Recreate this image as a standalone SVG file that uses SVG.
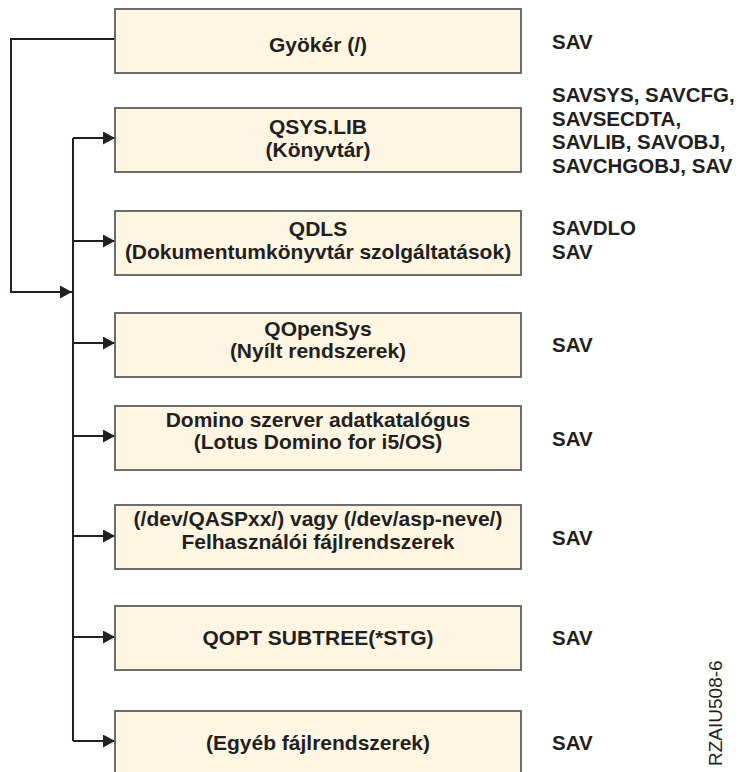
<svg xmlns="http://www.w3.org/2000/svg" width="742" height="772" viewBox="0 0 742 772">
<defs>
<style>
.box{fill:#fef6e2;stroke:#5e5e5e;stroke-width:1.8}
.t{font-family:"Liberation Sans",Arial,sans-serif;font-weight:bold;font-size:21px;fill:#231f20}
.l{font-size:20.5px}
.c{text-anchor:middle}
.ln{fill:none;stroke:#231f20;stroke-width:2}
</style>
<marker id="ah" markerUnits="userSpaceOnUse" markerWidth="13" markerHeight="14" refX="12" refY="6.5" orient="auto">
<path d="M0,0 L12,6.5 L0,13 Z" fill="#231f20"/>
</marker>
</defs>
<rect width="742" height="772" fill="#ffffff"/>
<g id="connectors">
<path class="ln" d="M115,39 H11 V292 H72" marker-end="url(#ah)"/>
<path class="ln" d="M73,138 V741"/>
<path class="ln" d="M73,138 H115" marker-end="url(#ah)"/>
<path class="ln" d="M73,241 H115" marker-end="url(#ah)"/>
<path class="ln" d="M73,343 H115" marker-end="url(#ah)"/>
<path class="ln" d="M73,436 H115" marker-end="url(#ah)"/>
<path class="ln" d="M73,536 H115" marker-end="url(#ah)"/>
<path class="ln" d="M73,637 H115" marker-end="url(#ah)"/>
<path class="ln" d="M73,741 H115" marker-end="url(#ah)"/>
</g>
<g id="node-root">
<rect class="box" x="115" y="9" width="406" height="64"/>
<text class="t c" x="318" y="52">Gyökér (/)</text>
<text class="t l" x="552" y="49">SAV</text>
</g>
<g id="node-qsys">
<rect class="box" x="115" y="108" width="406" height="64"/>
<text class="t c" x="318" y="134">QSYS.LIB</text>
<text class="t c" x="318" y="157">(Könyvtár)</text>
<text class="t l" x="552" y="102">SAVSYS, SAVCFG,</text>
<text class="t l" x="552" y="126">SAVSECDTA,</text>
<text class="t l" x="552" y="149">SAVLIB, SAVOBJ,</text>
<text class="t l" x="552" y="173">SAVCHGOBJ, SAV</text>
</g>
<g id="node-qdls">
<rect class="box" x="115" y="211" width="406" height="64"/>
<text class="t c" x="318" y="236">QDLS</text>
<text class="t c" x="318" y="259">(Dokumentumkönyvtár szolgáltatások)</text>
<text class="t l" x="552" y="235">SAVDLO</text>
<text class="t l" x="552" y="259">SAV</text>
</g>
<g id="node-qopensys">
<rect class="box" x="115" y="313" width="406" height="64"/>
<text class="t c" x="318" y="336">QOpenSys</text>
<text class="t c" x="318" y="358">(Nyílt rendszerek)</text>
<text class="t l" x="552" y="352">SAV</text>
</g>
<g id="node-domino">
<rect class="box" x="115" y="406" width="406" height="64"/>
<text class="t c" x="318" y="427">Domino szerver adatkatalógus</text>
<text class="t c" x="318" y="449">(Lotus Domino for i5/OS)</text>
<text class="t l" x="552" y="446">SAV</text>
</g>
<g id="node-dev">
<rect class="box" x="115" y="505" width="406" height="64"/>
<text class="t c" x="318" y="526">(/dev/QASPxx/) vagy (/dev/asp-neve/)</text>
<text class="t c" x="318" y="549">Felhasználói fájlrendszerek</text>
<text class="t l" x="552" y="545">SAV</text>
</g>
<g id="node-qopt">
<rect class="box" x="115" y="606" width="406" height="64"/>
<text class="t c" x="318" y="645">QOPT SUBTREE(*STG)</text>
<text class="t l" x="552" y="645">SAV</text>
</g>
<g id="node-other">
<rect class="box" x="115" y="711" width="406" height="70"/>
<text class="t c" x="318" y="750">(Egyéb fájlrendszerek)</text>
<text class="t l" x="552" y="750">SAV</text>
</g>
<text x="722" y="766" transform="rotate(-90 722 766)" style="font-family:'Liberation Sans',Arial,sans-serif;font-size:19px;fill:#231f20">RZAIU508-6</text>
</svg>
